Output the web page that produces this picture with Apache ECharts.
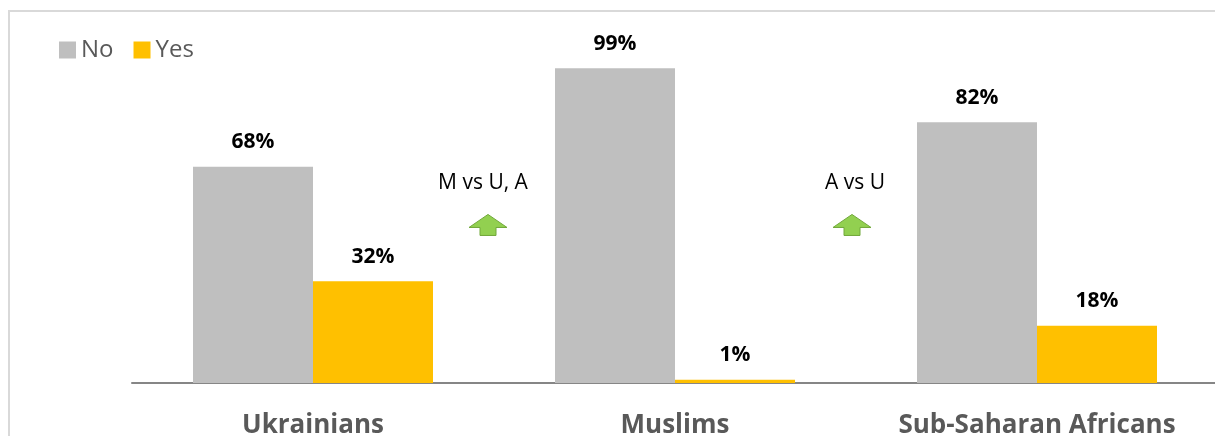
<!DOCTYPE html>
<html>
<head>
<meta charset="utf-8">
<script src="https://cdn.jsdelivr.net/npm/echarts@6/dist/echarts.min.js"></script>
<style>
  html, body { margin: 0; padding: 0; background: #fff; }
  #chart { width: 1215px; height: 436px; }
</style>
</head>
<body>
<div id="chart"></div>
<script>
const categories = ['Ukrainians', 'Muslims', 'Sub-Saharan Africans']
const noValues = [68, 99, 82]
const yesValues = [32, 1, 18]
// significance notes sit between two groups: [left group index, text]
const notes = [[0, 'M vs U, A'], [1, 'A vs U']]
const noteTextValue = 63
const noteArrowValue = 53

const font = '"Open Sans", "Noto Sans", sans-serif'
// small nudges so the notes sit where the original put them
const textShift = [-11, -1]
const arrowShift = [-6, -4]

const chart = echarts.init(document.getElementById('chart'))

const label = {
  show: true,
  position: 'top',
  distance: 14,
  formatter: '{c}%',
  color: '#000',
  fontFamily: font,
  fontWeight: 'bold',
  fontSize: 21
}

chart.setOption({
  animation: false,
  grid: { left: 132, width: 1086, top: 65, bottom: 53, outerBoundsMode: 'none', containLabel: false },
  legend: {
    left: 54,
    top: 33,
    itemWidth: 17,
    itemHeight: 17,
    itemGap: 20,
    icon: 'rect',
    textStyle: { fontFamily: font, fontSize: 24, color: '#595959' },
    data: ['No', 'Yes']
  },
  xAxis: {
    type: 'category',
    data: categories,
    axisTick: { show: false },
    axisLine: { lineStyle: { color: '#868686', width: 2 } },
    axisLabel: {
      margin: 30,
      fontFamily: font,
      fontWeight: 'bold',
      fontSize: 26,
      color: '#595959'
    }
  },
  yAxis: {
    type: 'value',
    min: 0,
    max: 100,
    show: false
  },
  series: [
    {
      name: 'No',
      type: 'bar',
      data: noValues,
      barWidth: 120,
      barGap: '0%',
      itemStyle: { color: '#BFBFBF' },
      label: label
    },
    {
      name: 'Yes',
      type: 'bar',
      data: yesValues,
      barWidth: 120,
      barGap: '0%',
      itemStyle: { color: '#FFC000' },
      label: label
    }
  ]
})

// border and the green arrows with their notes
const graphics = [{
  type: 'rect',
  shape: { x: 9, y: 11, width: 1400, height: 600 },
  style: { fill: 'none', stroke: '#D9D9D9', lineWidth: 2 },
  silent: true
}]

notes.forEach(([i, text], k) => {
  const a = chart.convertToPixel({ seriesIndex: 0 }, [i, 0])
  const b = chart.convertToPixel({ seriesIndex: 0 }, [i + 1, 0])
  const mid = (a[0] + b[0]) / 2
  const textY = chart.convertToPixel({ seriesIndex: 0 }, [i, noteTextValue])[1]
  const top = chart.convertToPixel({ seriesIndex: 0 }, [i, noteArrowValue])[1]
  const cx = mid + arrowShift[k]
  graphics.push({
    type: 'text',
    x: mid + textShift[k],
    y: textY,
    style: {
      text: text,
      fontFamily: font,
      fontSize: 21,
      fill: '#000',
      align: 'center',
      verticalAlign: 'middle'
    }
  })
  graphics.push({
    type: 'polygon',
    shape: {
      points: [
        [cx, top], [cx + 19, top + 13], [cx + 8, top + 13], [cx + 8, top + 21],
        [cx - 8, top + 21], [cx - 8, top + 13], [cx - 19, top + 13]
      ]
    },
    style: { fill: '#92D050', stroke: '#71A83A', lineWidth: 1 }
  })
})

chart.setOption({ graphic: graphics })
</script>
</body>
</html>
